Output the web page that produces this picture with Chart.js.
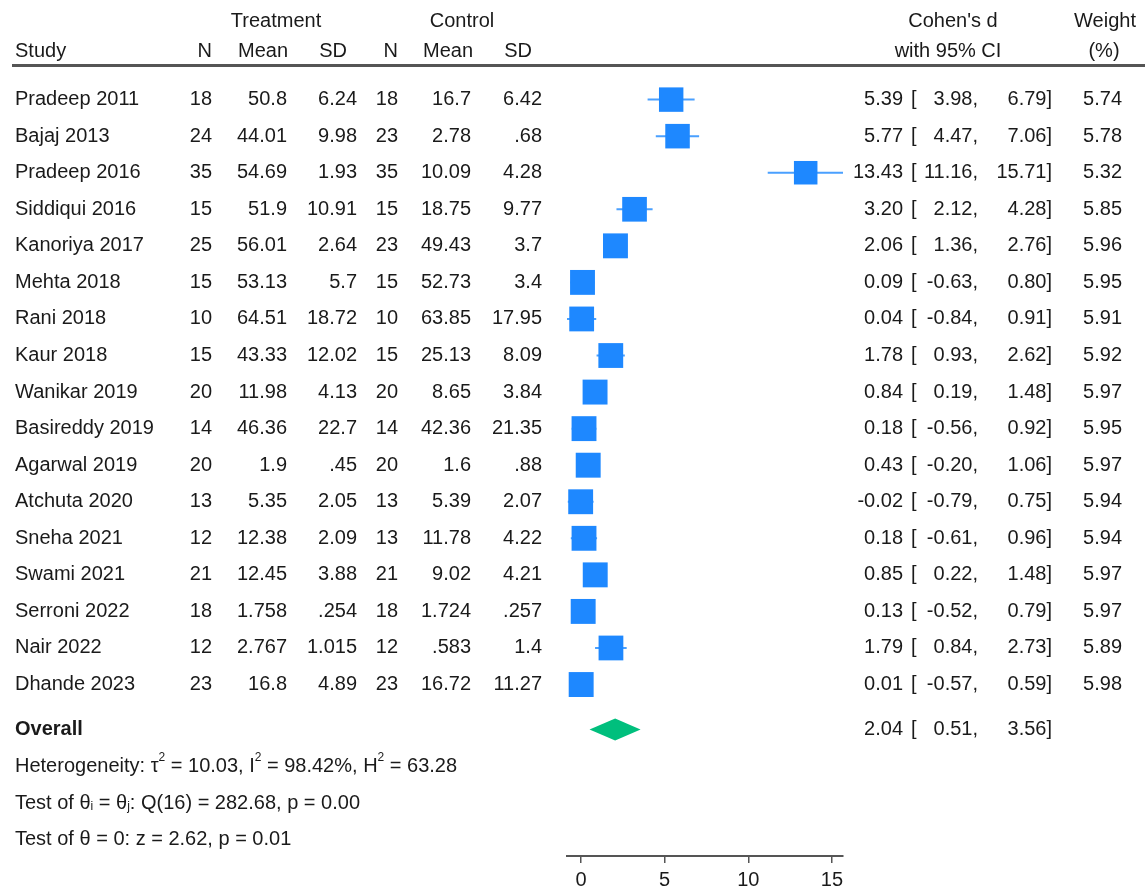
<!DOCTYPE html>
<html>
<head>
<meta charset="utf-8">
<script src="https://cdn.jsdelivr.net/npm/chart.js@4.4.1/dist/chart.umd.min.js"></script>
<style>
  html, body { margin: 0; padding: 0; background: #fff; }
  #wrap { width: 1145px; height: 888px; }
</style>
</head>
<body>
<div id="wrap"><canvas id="forest" width="1145" height="888"></canvas></div>
<script>
// Study-level data
const studies  = ['Pradeep 2011','Bajaj 2013','Pradeep 2016','Siddiqui 2016','Kanoriya 2017','Mehta 2018','Rani 2018','Kaur 2018','Wanikar 2019','Basireddy 2019','Agarwal 2019','Atchuta 2020','Sneha 2021','Swami 2021','Serroni 2022','Nair 2022','Dhande 2023'];
const trtN     = ['18','24','35','15','25','15','10','15','20','14','20','13','12','21','18','12','23'];
const trtMean  = ['50.8','44.01','54.69','51.9','56.01','53.13','64.51','43.33','11.98','46.36','1.9','5.35','12.38','12.45','1.758','2.767','16.8'];
const trtSD    = ['6.24','9.98','1.93','10.91','2.64','5.7','18.72','12.02','4.13','22.7','.45','2.05','2.09','3.88','.254','1.015','4.89'];
const ctlN     = ['18','23','35','15','23','15','10','15','20','14','20','13','13','21','18','12','23'];
const ctlMean  = ['16.7','2.78','10.09','18.75','49.43','52.73','63.85','25.13','8.65','42.36','1.6','5.39','11.78','9.02','1.724','.583','16.72'];
const ctlSD    = ['6.42','.68','4.28','9.77','3.7','3.4','17.95','8.09','3.84','21.35','.88','2.07','4.22','4.21','.257','1.4','11.27'];
const effect   = [5.39, 5.77, 13.43, 3.20, 2.06, 0.09, 0.04, 1.78, 0.84, 0.18, 0.43, -0.02, 0.18, 0.85, 0.13, 1.79, 0.01];
const ciLow    = [3.98, 4.47, 11.16, 2.12, 1.36, -0.63, -0.84, 0.93, 0.19, -0.56, -0.20, -0.79, -0.61, 0.22, -0.52, 0.84, -0.57];
const ciHigh   = [6.79, 7.06, 15.71, 4.28, 2.76, 0.80, 0.91, 2.62, 1.48, 0.92, 1.06, 0.75, 0.96, 1.48, 0.79, 2.73, 0.59];
const weights  = [5.74, 5.78, 5.32, 5.85, 5.96, 5.95, 5.91, 5.92, 5.97, 5.95, 5.97, 5.94, 5.94, 5.97, 5.97, 5.89, 5.98];

// Pooled estimate
const overallEst  = 2.04;
const overallLow  = 0.51;
const overallHigh = 3.56;

// Axis ticks
const xTicks = [0, 5, 10, 15];

const FONT = "'Liberation Sans', Arial, Helvetica, sans-serif";
const TEXT = '#1a1a1a';
const BOX  = '#1e88ff';
const WHISK = '#4aa0ff';
const DIAMOND = '#00bf7d';

const overallRow = 17.23;
const footRows = [18.24, 19.25, 20.24];

function fmt(v) { return v.toFixed(2); }

// CI segments, separated by gaps
const ciData = [];
effect.forEach((_, i) => {
  ciData.push({x: ciLow[i], y: i}, {x: ciHigh[i], y: i}, {x: NaN, y: NaN});
});
const boxData = effect.map((v, i) => ({x: v, y: i}));

function drawRich(ctx, parts, x, y, size) {
  let cx = x;
  parts.forEach(p => {
    let s = size, dy = 0;
    if (p.sup) { s = size * 0.6; dy = -size * 0.42; }
    if (p.sub) { s = size * 0.6; dy = size * 0.18; }
    ctx.font = s + 'px ' + FONT;
    ctx.fillText(p.t, cx, y + dy);
    cx += ctx.measureText(p.t).width;
  });
}

const tablePlugin = {
  id: 'forestTable',
  afterDatasetsDraw(chart) {
    const ctx = chart.ctx;
    const xs = chart.scales.x, ys = chart.scales.y;
    ctx.save();

    // pooled diamond
    const yo = ys.getPixelForValue(overallRow);
    ctx.fillStyle = DIAMOND;
    ctx.beginPath();
    ctx.moveTo(xs.getPixelForValue(overallLow), yo);
    ctx.lineTo(xs.getPixelForValue(overallEst), yo - 11);
    ctx.lineTo(xs.getPixelForValue(overallHigh), yo);
    ctx.lineTo(xs.getPixelForValue(overallEst), yo + 11);
    ctx.closePath();
    ctx.fill();

    // header
    ctx.fillStyle = TEXT;
    ctx.textBaseline = 'middle';
    ctx.font = '20px ' + FONT;
    ctx.textAlign = 'center';
    ctx.fillText('Treatment', 276, 21);
    ctx.fillText('Control', 462, 21);
    ctx.fillText("Cohen's d", 953, 21);
    ctx.fillText('with 95% CI', 948, 51);
    ctx.fillText('Weight', 1105, 21);
    ctx.fillText('(%)', 1104, 51);
    ctx.textAlign = 'left';
    ctx.fillText('Study', 15, 51);
    ctx.textAlign = 'right';
    ctx.fillText('N', 212, 51);
    ctx.fillText('Mean', 288, 51);
    ctx.fillText('SD', 347, 51);
    ctx.fillText('N', 398, 51);
    ctx.fillText('Mean', 473, 51);
    ctx.fillText('SD', 532, 51);

    ctx.strokeStyle = '#555';
    ctx.lineWidth = 3;
    ctx.beginPath();
    ctx.moveTo(12, 65.5);
    ctx.lineTo(1145, 65.5);
    ctx.stroke();

    // study rows
    studies.forEach((s, i) => {
      const y = ys.getPixelForValue(i);
      ctx.font = '20px ' + FONT;
      ctx.textAlign = 'left';
      ctx.fillText(s, 15, y);
      ctx.textAlign = 'right';
      ctx.fillText(trtN[i], 212, y);
      ctx.fillText(trtMean[i], 287, y);
      ctx.fillText(trtSD[i], 357, y);
      ctx.fillText(ctlN[i], 398, y);
      ctx.fillText(ctlMean[i], 471, y);
      ctx.fillText(ctlSD[i], 542, y);
      ctx.fillText(fmt(effect[i]), 903, y);
      ctx.textAlign = 'left';
      ctx.fillText('[', 911, y);
      ctx.textAlign = 'right';
      ctx.fillText(fmt(ciLow[i]) + ',', 978, y);
      ctx.fillText(fmt(ciHigh[i]) + ']', 1052, y);
      ctx.fillText(weights[i].toFixed(2), 1122, y);
    });

    // overall row
    ctx.textAlign = 'left';
    ctx.font = 'bold 20px ' + FONT;
    ctx.fillText('Overall', 15, yo);
    ctx.font = '20px ' + FONT;
    ctx.textAlign = 'right';
    ctx.fillText(fmt(overallEst), 903, yo);
    ctx.textAlign = 'left';
    ctx.fillText('[', 911, yo);
    ctx.textAlign = 'right';
    ctx.fillText(fmt(overallLow) + ',', 978, yo);
    ctx.fillText(fmt(overallHigh) + ']', 1052, yo);

    // heterogeneity and tests
    ctx.textAlign = 'left';
    drawRich(ctx, [
      {t: 'Heterogeneity: \u03C4'}, {t: '2', sup: true},
      {t: ' = 10.03, I'}, {t: '2', sup: true},
      {t: ' = 98.42%, H'}, {t: '2', sup: true},
      {t: ' = 63.28'}
    ], 15, ys.getPixelForValue(footRows[0]), 20);
    drawRich(ctx, [
      {t: 'Test of \u03B8'}, {t: 'i', sub: true},
      {t: ' = \u03B8'}, {t: 'j', sub: true},
      {t: ': Q(16) = 282.68, p = 0.00'}
    ], 15, ys.getPixelForValue(footRows[1]), 20);
    drawRich(ctx, [
      {t: 'Test of \u03B8 = 0: z = 2.62, p = 0.01'}
    ], 15, ys.getPixelForValue(footRows[2]), 20);

    ctx.restore();
  }
};

new Chart(document.getElementById('forest'), {
  type: 'scatter',
  data: {
    datasets: [
      {
        // confidence-interval whiskers, drawn beneath the squares
        type: 'line',
        order: 2,
        data: ciData,
        showLine: true,
        spanGaps: false,
        borderColor: WHISK,
        borderWidth: 2,
        pointRadius: 0,
        fill: false
      },
      {
        // study estimates, square size from weight
        order: 1,
        data: boxData,
        pointStyle: 'rect',
        backgroundColor: BOX,
        borderColor: BOX,
        borderWidth: 0,
        pointRadius: ctx => {
          const w = weights[ctx.dataIndex] || 5.8;
          return 10.2 * Math.sqrt(w) / Math.SQRT2;
        }
      }
    ]
  },
  options: {
    responsive: false,
    animation: false,
    layout: { padding: { left: 567, right: 302, top: 70, bottom: 0 } },
    plugins: { legend: { display: false }, tooltip: { enabled: false } },
    scales: {
      x: {
        type: 'linear',
        min: -0.837,
        max: 15.66,
        afterBuildTicks: scale => { scale.ticks = xTicks.map(v => ({value: v})); },
        afterFit: scale => { scale.height = 32; },
        grid: { drawOnChartArea: false, drawTicks: true, tickLength: 7, color: '#555', lineWidth: 1.5 },
        border: { display: true, color: '#555', width: 2 },
        ticks: { color: TEXT, font: { family: FONT, size: 20 }, padding: 5, maxRotation: 0 }
      },
      y: {
        type: 'linear',
        display: false,
        reverse: true,
        min: -0.81,
        max: 20.69
      }
    }
  },
  plugins: [tablePlugin]
});
</script>
</body>
</html>
